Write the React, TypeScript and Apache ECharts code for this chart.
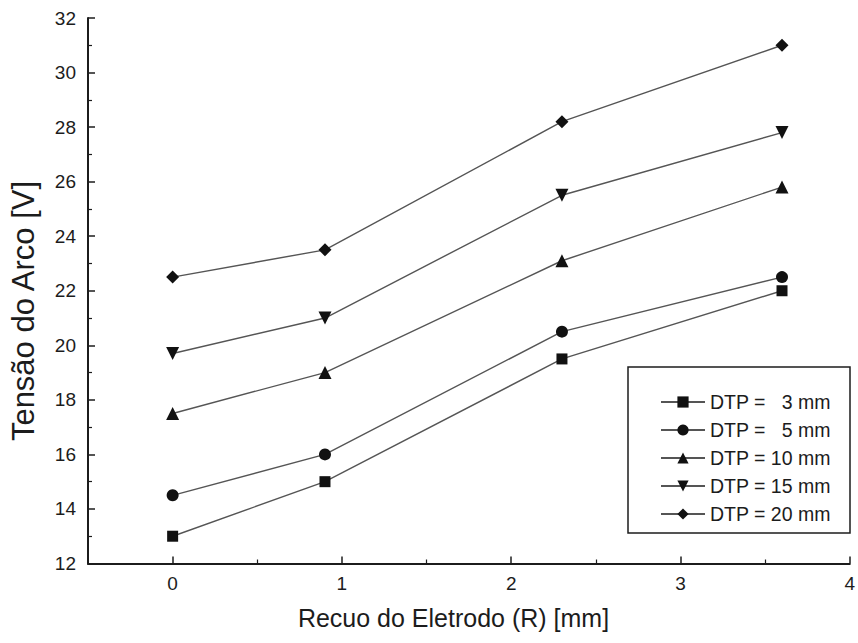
import React, { useEffect, useRef } from "react";
import * as echarts from "echarts";

const xValues = [0, 0.9, 2.3, 3.6];
const dtp3 = [13.0, 15.0, 19.5, 22.0];
const dtp5 = [14.5, 16.0, 20.5, 22.5];
const dtp10 = [17.5, 19.0, 23.1, 25.8];
const dtp15 = [19.7, 21.0, 25.5, 27.8];
const dtp20 = [22.5, 23.5, 28.2, 31.0];

const seriesNames = [
  "DTP = \u00a0\u00a03 mm",
  "DTP = \u00a0\u00a05 mm",
  "DTP = 10 mm",
  "DTP = 15 mm",
  "DTP = 20 mm",
];
const seriesValues = [dtp3, dtp5, dtp10, dtp15, dtp20];
const seriesSymbols = ["rect", "circle", "triangle", "triangle", "diamond"];
const seriesRotate = [0, 0, 0, 180, 0];
const seriesSizes = [11, 12, 13, 13, 13];

const xMajorTicks = [0, 1, 2, 3, 4];
const xMinorTicks = [0.5, 1.5, 2.5, 3.5];

const FONT = "'Liberation Sans', Arial, Helvetica, sans-serif";
const INK = "#1c1c1c";

export default function App() {
  const ref = useRef<HTMLDivElement>(null);
  useEffect(() => {
    if (!ref.current) return;
    const chart = echarts.init(ref.current, undefined, { renderer: "svg" });
    const grid = { left: 88, top: 18, width: 764, height: 545.5 };
    chart.setOption({
      animation: false,
      backgroundColor: "#ffffff",
      textStyle: { fontFamily: FONT },
      grid,
      xAxis: [
        {
          type: "value",
          min: -0.5,
          max: 4,
          axisLine: { show: true, onZero: false, lineStyle: { color: INK, width: 2.2 } },
          axisTick: {
            show: true,
            inside: true,
            length: 7,
            customValues: xMajorTicks,
            lineStyle: { color: INK, width: 1.5 },
          },
          axisLabel: {
            customValues: xMajorTicks,
            fontSize: 19,
            color: INK,
            margin: 10,
            fontFamily: FONT,
          },
          splitLine: { show: false },
        },
        {
          type: "value",
          min: -0.5,
          max: 4,
          position: "bottom",
          axisLine: { show: false, onZero: false },
          axisTick: {
            show: true,
            inside: true,
            length: 4,
            customValues: xMinorTicks,
            lineStyle: { color: INK, width: 1.2 },
          },
          axisLabel: { show: false },
          splitLine: { show: false },
        },
      ],
      yAxis: {
        type: "value",
        min: 12,
        max: 32,
        interval: 2,
        axisLine: { show: true, onZero: false, lineStyle: { color: INK, width: 2 } },
        axisTick: { show: true, inside: true, length: 7, lineStyle: { color: INK, width: 1.5 } },
        minorTick: { show: true, splitNumber: 2, length: 4, lineStyle: { color: INK, width: 1.2 } },
        axisLabel: { fontSize: 19, color: INK, margin: 12, fontFamily: FONT },
        splitLine: { show: false },
      },
      legend: {
        orient: "vertical",
        left: 655,
        top: 387,
        itemWidth: 44,
        itemHeight: 14,
        itemGap: 8,
        textStyle: { fontSize: 19.5, color: INK, fontFamily: FONT, lineHeight: 20 },
        data: seriesNames,
      },
      graphic: [
        {
          type: "rect",
          shape: { x: 628, y: 367, width: 222, height: 166 },
          style: { fill: "none", stroke: INK, lineWidth: 1.5 },
          silent: true,
        },
        {
          type: "text",
          x: 453.5,
          y: 618,
          style: {
            text: "Recuo do Eletrodo (R) [mm]",
            fontSize: 25,
            fontFamily: FONT,
            fill: INK,
            align: "center",
            verticalAlign: "middle",
          },
        },
        {
          type: "text",
          x: 23.5,
          y: 311,
          rotation: Math.PI / 2,
          style: {
            text: "Tensão do Arco [V]",
            fontSize: 31,
            fontFamily: FONT,
            fill: INK,
            align: "center",
            verticalAlign: "middle",
          },
        },
      ],
      series: seriesNames.map((name, i) => ({
        name,
        type: "line",
        xAxisIndex: 0,
        data: xValues.map((x, j) => [x, seriesValues[i][j]]),
        symbol: seriesSymbols[i],
        symbolRotate: seriesRotate[i],
        symbolSize: seriesSizes[i],
        showSymbol: true,
        lineStyle: { color: "#555555", width: 1.4 },
        itemStyle: { color: "#111111" },
        emphasis: { disabled: true },
      })),
    });
    return () => chart.dispose();
  }, []);
  return (
    <div
      ref={ref}
      style={{ position: "absolute", left: 0, top: 0, width: 858, height: 643 }}
    />
  );
}
